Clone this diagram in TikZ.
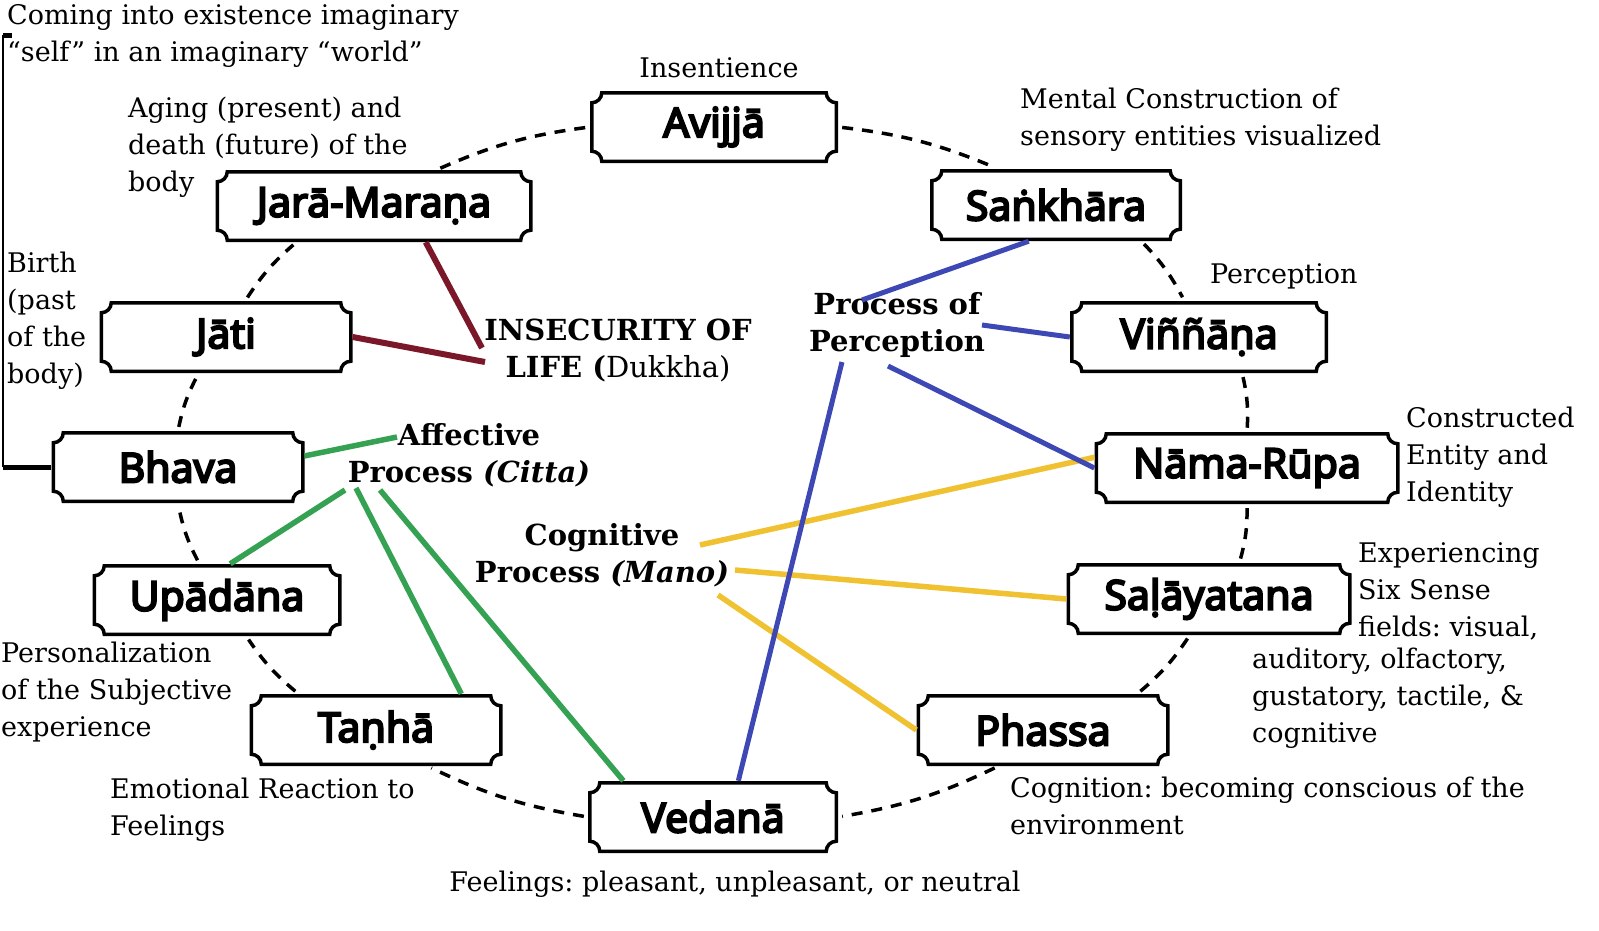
\documentclass[tikz,border=0pt]{standalone}
\usepackage{fontspec}
\setmainfont{DejaVu Serif}
\newfontfamily\nidanafont{Noto Sans}[FakeBold=5]
\usetikzlibrary{calc}
\definecolor{dukkhared}{RGB}{122,24,42}
\definecolor{cittagreen}{RGB}{52,162,82}
\definecolor{perceptblue}{RGB}{62,72,180}
\definecolor{manoyellow}{RGB}{240,194,50}
\frenchspacing

\begin{document}
\begin{tikzpicture}[x=1pt, y=-1pt,
    nidana/.style={minimum width=#1, minimum height=72, inner sep=0pt,
      font=\nidanafont\fontsize{41}{44}\selectfont,
      path picture={
        \draw[x=1pt, y=1pt, line width=3.5pt]
          let \p1=(path picture bounding box.south west),
              \p2=(path picture bounding box.north east) in
          (\x1+11.75pt, \y1+1.75pt) -- (\x2-11.75pt, \y1+1.75pt)
          arc[start angle=180, end angle=90, radius=10pt]
          -- (\x2-1.75pt, \y2-11.75pt)
          arc[start angle=270, end angle=180, radius=10pt]
          -- (\x1+11.75pt, \y2-1.75pt)
          arc[start angle=0, end angle=-90, radius=10pt]
          -- (\x1+1.75pt, \y1+11.75pt)
          arc[start angle=90, end angle=0, radius=10pt]
          -- cycle;
      }},
    nidana/.default=253,
    note/.style={font=\fontsize{27}{37}\selectfont, align=left, inner sep=0pt},
    proc/.style={font=\bfseries\fontsize{29}{37}\selectfont, align=center, inner sep=0pt},
    ring/.style={dash pattern=on 11pt off 9pt, line width=3.5pt, shorten <=4pt, shorten >=4pt},
    dukkha/.style={draw=dukkhared, line width=6pt},
    citta/.style={draw=cittagreen, line width=5.5pt},
    percept/.style={draw=perceptblue, line width=5pt},
    mano/.style={draw=manoyellow, line width=5.5pt}]

    \useasboundingbox[fill=white] (0, 0) rectangle (1599, 930);

    \node [nidana=248] (0) at (714, 127) {Avijjā};
    \node [nidana=252] (1) at (1056, 205) {Saṅkhāra};
    \draw [ring] (0.east) to[bend left=8] (1.148);
    \node [nidana=258] (2) at (1199, 337) {Viññāṇa};
    \draw [ring] (1.-23) to[bend left=8] (2.112);
    \node [nidana=305] (3) at (1247, 468) {Nāma-Rūpa};
    \draw [ring] (2.-40) to[bend left=8] (3.north);
    \node [nidana=285] (4) at (1209, 599) {Saḷāyatana};
    \draw [ring] (3.south) to[bend left=8] (4.50);
    \node [nidana] (5) at (1043, 730) {Phassa};
    \draw [ring] (4.-118) to[bend left=8] (5.21);
    \node [nidana=250] (6) at (713, 817) {Vedanā};
    \draw [ring] (5.-141) to[bend left=8] (6.east);
    \node [nidana] (7) at (376, 730) {Taṇhā};
    \draw [ring] (6.west) to[bend left=8] (7.-35);
    \node [nidana=249] (8) at (217, 600) {Upādāna};
    \draw [ring] (7.155) to[bend left=8] (8.-51);
    \node [nidana] (9) at (178, 467) {Bhava};
    \draw [ring] (8.116) to[bend left=8] (9.south);
    \node [nidana] (10) at (226, 337) {Jāti};
    \draw [ring] (9.north) to[bend left=8] (10.-127);
    \node [nidana=317] (11) at (374, 206) {Jarā-Maraṇa};
    \draw [ring] (10.62) to[bend left=8] (11.-155);
    \draw [ring] (11.30) to[bend left=8] (0.west);

    \node [proc] (d1) at (618, 350) {INSECURITY OF\\LIFE (\textmd{Dukkha)}};
    \draw [dukkha] (11.-35) -- ([shift={(-136,-2)}]d1.center);
    \draw [dukkha] (10.east) -- ([shift={(-133,12)}]d1.center);

    \node [proc] (p1) at (469, 455) {Affective\\Process \textit{(Citta)}};
    \draw [citta] (9.5) -- ([shift={(-72,-18)}]p1.center);
    \draw [citta] (8.70) -- ([shift={(-124,35)}]p1.center);
    \draw [citta] (7.23) -- ([shift={(-113,33)}]p1.center);
    \draw [citta] (6.158) -- ([shift={(-89,35)}]p1.center);

    \node [proc] (p2) at (602, 555) {Cognitive\\Process \textit{(Mano)}};
    \draw [mano] (3.176) -- ([shift={(98,-10)}]p2.center);
    \draw [mano] (4.west) -- ([shift={(133,15)}]p2.center);
    \draw [mano] (5.west) -- ([shift={(116,40)}]p2.center);

    \node [proc] (p3) at (897, 325) {Process of\\Perception};
    \draw [percept] (1.-127) -- ([shift={(-35,-25)}]p3.center);
    \draw [percept] (2.west) -- ([shift={(85,0)}]p3.center);
    \draw [percept] (6.55) -- ([shift={(-55,37)}]p3.center);
    \draw [percept] (3.west) -- ([shift={(-9,41)}]p3.center);

    \coordinate (k1) at (3, 467);
    \coordinate (k2) at (3, 35);
    \coordinate (k3) at (12, 35);
    \draw [line width=5pt] (9.west) -- (k1);
    \draw [line width=2pt] (k1) -- (k2);
    \draw [line width=5pt] (k2) -- (k3);

    \node [note, anchor=west] (t0) at (7, 36) {Coming into existence imaginary\\“self” in an imaginary “world”};
    \node [note] (t1) at (719, 68) {Insentience};
    \node [note, anchor=west] (t2) at (128, 147) {Aging (present) and\\death (future) of the\\body};
    \node [note, anchor=west] (t3) at (1020, 120) {Mental Construction of\\sensory entities visualized};
    \node [note, anchor=west] (t4) at (7, 321) {Birth\\(past\\of the\\body)};
    \node [note, anchor=west] (t5) at (1210, 276) {Perception};
    \node [note, anchor=west] (t6) at (1406, 457) {Constructed\\Entity and\\Identity};
    \node [note, anchor=west] (t7) at (1358, 591) {Experiencing\\Six Sense\\fields: visual,};
    \node [note, anchor=west] (t8) at (1252, 698) {auditory, olfactory,\\gustatory, tactile, \&\\cognitive};
    \node [note, anchor=west] (t9) at (1, 692) {Personalization\\of the Subjective\\experience};
    \node [note, anchor=west] (t10) at (110, 810) {Emotional Reaction to\\Feelings};
    \node [note, anchor=west] (t11) at (1010, 806) {Cognition: becoming conscious of the\\environment};
    \node [note] (t12) at (735, 884) {Feelings: pleasant, unpleasant, or neutral};

\end{tikzpicture}
\end{document}
